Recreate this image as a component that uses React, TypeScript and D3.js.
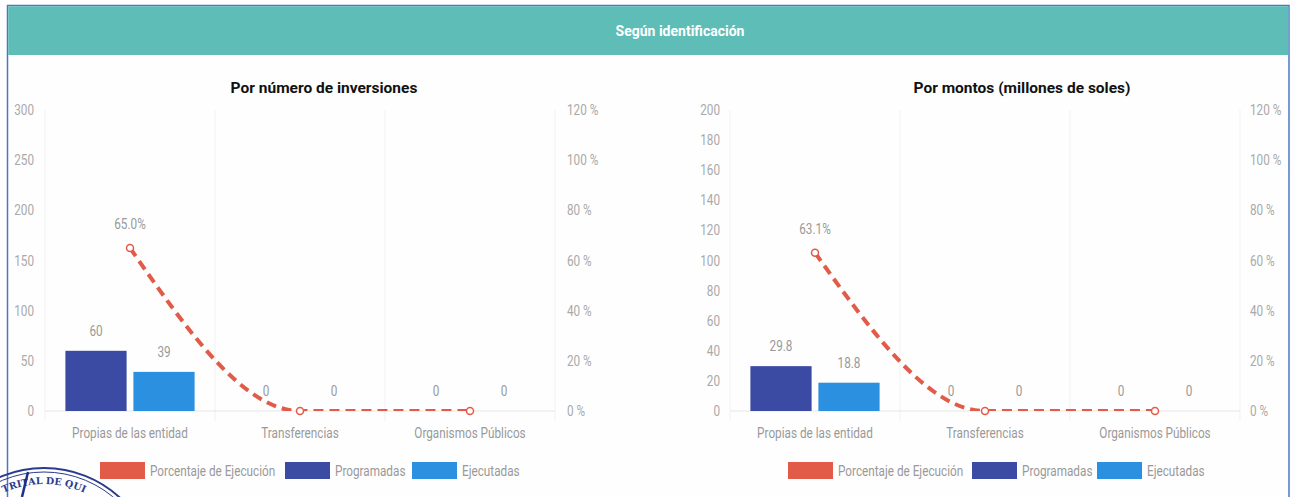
import React from "react";
import * as d3 from "d3";

const categories = ["Propias de las entidad", "Transferencias", "Organismos Públicos"];
const seriesNames = ["Programadas", "Ejecutadas"];
const legendNames = ["Porcentaje de Ejecución", "Programadas", "Ejecutadas"];

const countProgramadas = [60, 0, 0];
const countEjecutadas = [39, 0, 0];
const countPct = [65.0, 0, 0];

const amountProgramadas = [29.8, 0, 0];
const amountEjecutadas = [18.8, 0, 0];
const amountPct = [63.1, 0, 0];

const countTicks = [0, 50, 100, 150, 200, 250, 300];
const amountTicks = [0, 20, 40, 60, 80, 100, 120, 140, 160, 180, 200];
const pctTicks = [0, 20, 40, 60, 80, 100, 120];

const headerTitle = "Según identificación";
const countTitle = "Por número de inversiones";
const amountTitle = "Por montos (millones de soles)";
const stampText = "TRITAL DE QUI";

const COLORS = {
  pct: "#e25b48",
  prog: "#3b4aa2",
  ejec: "#2c90e0",
  teal: "#5ebdb7",
  border: "#4b78c6",
  axis: "#a9a9a9",
  label: "#999999",
  grid: "#f1f1f1",
};

const FONT = "Roboto, sans-serif";
const SX = 0.84;
const TOP = 110;
const BOTTOM = 411;

function CText(props: { x: number; y: number; anchor?: "start" | "middle" | "end"; size?: number; fill?: string; children: React.ReactNode }) {
  return (
    <g transform={`translate(${props.x},${props.y}) scale(${SX},1)`}>
      <text x={0} y={0} textAnchor={props.anchor || "start"} fontFamily={FONT} fontSize={props.size || 14} fill={props.fill || COLORS.label}>
        {props.children}
      </text>
    </g>
  );
}

type ChartProps = {
  id: string;
  x0: number;
  x1: number;
  yMax: number;
  yTicks: number[];
  title: string;
  titleX: number;
  leftLabelX: number;
  rightLabelX: number;
  prog: number[];
  ejec: number[];
  pct: number[];
  legendX: number;
  legendOffsets: number[];
};

function Chart(p: ChartProps) {
  const x = d3.scaleBand<string>().domain(categories).range([p.x0, p.x1]).paddingInner(0).paddingOuter(0);
  const bw = x.bandwidth();
  const x1 = d3.scaleBand<string>().domain(seriesNames).range([bw * 0.12, bw * 0.88]).paddingInner(0.1);
  const y = d3.scaleLinear().domain([0, p.yMax]).range([BOTTOM, TOP]);
  const yP = d3.scaleLinear().domain([0, 120]).range([BOTTOM, TOP]);
  const line = d3
    .line<number>()
    .x((_, i) => (x(categories[i]) as number) + bw / 2)
    .y((d) => yP(d))
    .curve(d3.curveMonotoneX);
  const series = [p.prog, p.ejec];
  const colors = [COLORS.prog, COLORS.ejec];
  const fmt = (v: number) => (Number.isInteger(v) ? String(v) : v.toFixed(1));
  const legendColors = [COLORS.pct, COLORS.prog, COLORS.ejec];
  const bounds = [p.x0, ...categories.map((c) => (x(c) as number) + bw)];
  return (
    <g>
      <defs>
        <clipPath id={`clip-${p.id}`}>
          <rect x={p.x0} y={TOP - 10} width={p.x1 - p.x0} height={BOTTOM - TOP + 10} />
        </clipPath>
      </defs>
      <text x={p.titleX} y={93} textAnchor="middle" fontFamily="Roboto, sans-serif" fontWeight="bold" fontSize={15.5} fill="#111">
        {p.title}
      </text>
      {bounds.map((b, i) => (
        <line key={i} x1={b} x2={b} y1={TOP} y2={BOTTOM + 10} stroke={COLORS.grid} strokeWidth={1} />
      ))}
      <line x1={p.x0} x2={p.x1} y1={BOTTOM} y2={BOTTOM} stroke="#e6e6e6" strokeWidth={1} />
      {p.yTicks.map((t) => (
        <CText key={t} x={p.leftLabelX} y={y(t) + 5} anchor="end" fill={COLORS.axis}>
          {t}
        </CText>
      ))}
      {pctTicks.map((t) => (
        <CText key={t} x={p.rightLabelX} y={yP(t) + 5} anchor="start" fill={COLORS.axis}>
          {`${t} %`}
        </CText>
      ))}
      {categories.map((c) => (
        <CText key={c} x={(x(c) as number) + bw / 2} y={438} anchor="middle">
          {c}
        </CText>
      ))}
      {series.map((vals, si) =>
        vals.map((v, ci) => {
          const bx = (x(categories[ci]) as number) + (x1(seriesNames[si]) as number);
          return (
            <g key={`${si}-${ci}`}>
              <rect x={bx} y={y(v)} width={x1.bandwidth()} height={BOTTOM - y(v)} fill={colors[si]} />
              <CText x={bx + x1.bandwidth() / 2} y={y(v) - 15} anchor="middle">
                {fmt(v)}
              </CText>
            </g>
          );
        })
      )}
      <g clipPath={`url(#clip-${p.id})`}>
        <path d={line(p.pct) || ""} fill="none" stroke={COLORS.pct} strokeWidth={4} strokeDasharray="10 6" />
      </g>
      {p.pct.map((v, i) => (
        <circle key={i} cx={(x(categories[i]) as number) + bw / 2} cy={yP(v)} r={3.5} fill="#fff" stroke={COLORS.pct} strokeWidth={1.5} />
      ))}
      {p.pct.map((v, i) =>
        v > 0 ? (
          <CText key={i} x={(x(categories[i]) as number) + bw / 2} y={yP(v) - 19} anchor="middle">
            {`${v.toFixed(1)}%`}
          </CText>
        ) : null
      )}
      {legendNames.map((n, i) => (
        <g key={n} transform={`translate(${p.legendX + p.legendOffsets[i]},0)`}>
          <rect x={0} y={462} width={45} height={17} fill={legendColors[i]} />
          <CText x={50} y={475.5}>
            {n}
          </CText>
        </g>
      ))}
    </g>
  );
}

export default function App() {
  return (
    <svg width={1296} height={497} style={{ position: "absolute", left: 0, top: 0, background: "#fff" }}>
      <rect x={0} y={0} width={1296} height={497} fill="#fefefe" />
      <rect x={7.5} y={5.5} width={1281.5} height={520} fill="none" stroke={COLORS.border} strokeWidth={1.5} />
      <rect x={8.25} y={6.25} width={1280} height={48.75} fill={COLORS.teal} />
      <text x={680} y={36} textAnchor="middle" fontFamily="Roboto, sans-serif" fontWeight="bold" fontSize={14} fill="#fff">
        {headerTitle}
      </text>
      <Chart
        id="count"
        x0={45}
        x1={555}
        yMax={300}
        yTicks={countTicks}
        title={countTitle}
        titleX={324}
        leftLabelX={34}
        rightLabelX={567}
        prog={countProgramadas}
        ejec={countEjecutadas}
        pct={countPct}
        legendX={100}
        legendOffsets={[0, 185, 312]}
      />
      <Chart
        id="amount"
        x0={730}
        x1={1240}
        yMax={200}
        yTicks={amountTicks}
        title={amountTitle}
        titleX={1022}
        leftLabelX={720}
        rightLabelX={1250}
        prog={amountProgramadas}
        ejec={amountEjecutadas}
        pct={amountPct}
        legendX={788}
        legendOffsets={[0, 184, 309]}
      />
      <g>
        <defs>
          <path id="stampArc" d="M -52 580 A 96 96 0 0 1 140 580" />
        </defs>
        <circle cx={44} cy={580} r={112} fill="none" stroke="#2b3b8c" strokeWidth={2} />
        <circle cx={44} cy={580} r={108} fill="none" stroke="#2b3b8c" strokeWidth={1} />
        <text fontFamily="'DejaVu Serif', serif" fontWeight="bold" fontSize={9.5} fill="#2b3b8c">
          <textPath href="#stampArc" startOffset="50%" textAnchor="middle">
            {stampText}
          </textPath>
        </text>
        <path d="M 22 497 L 28 472" stroke="#1f2f8a" strokeWidth={2.5} fill="none" />
      </g>
    </svg>
  );
}
